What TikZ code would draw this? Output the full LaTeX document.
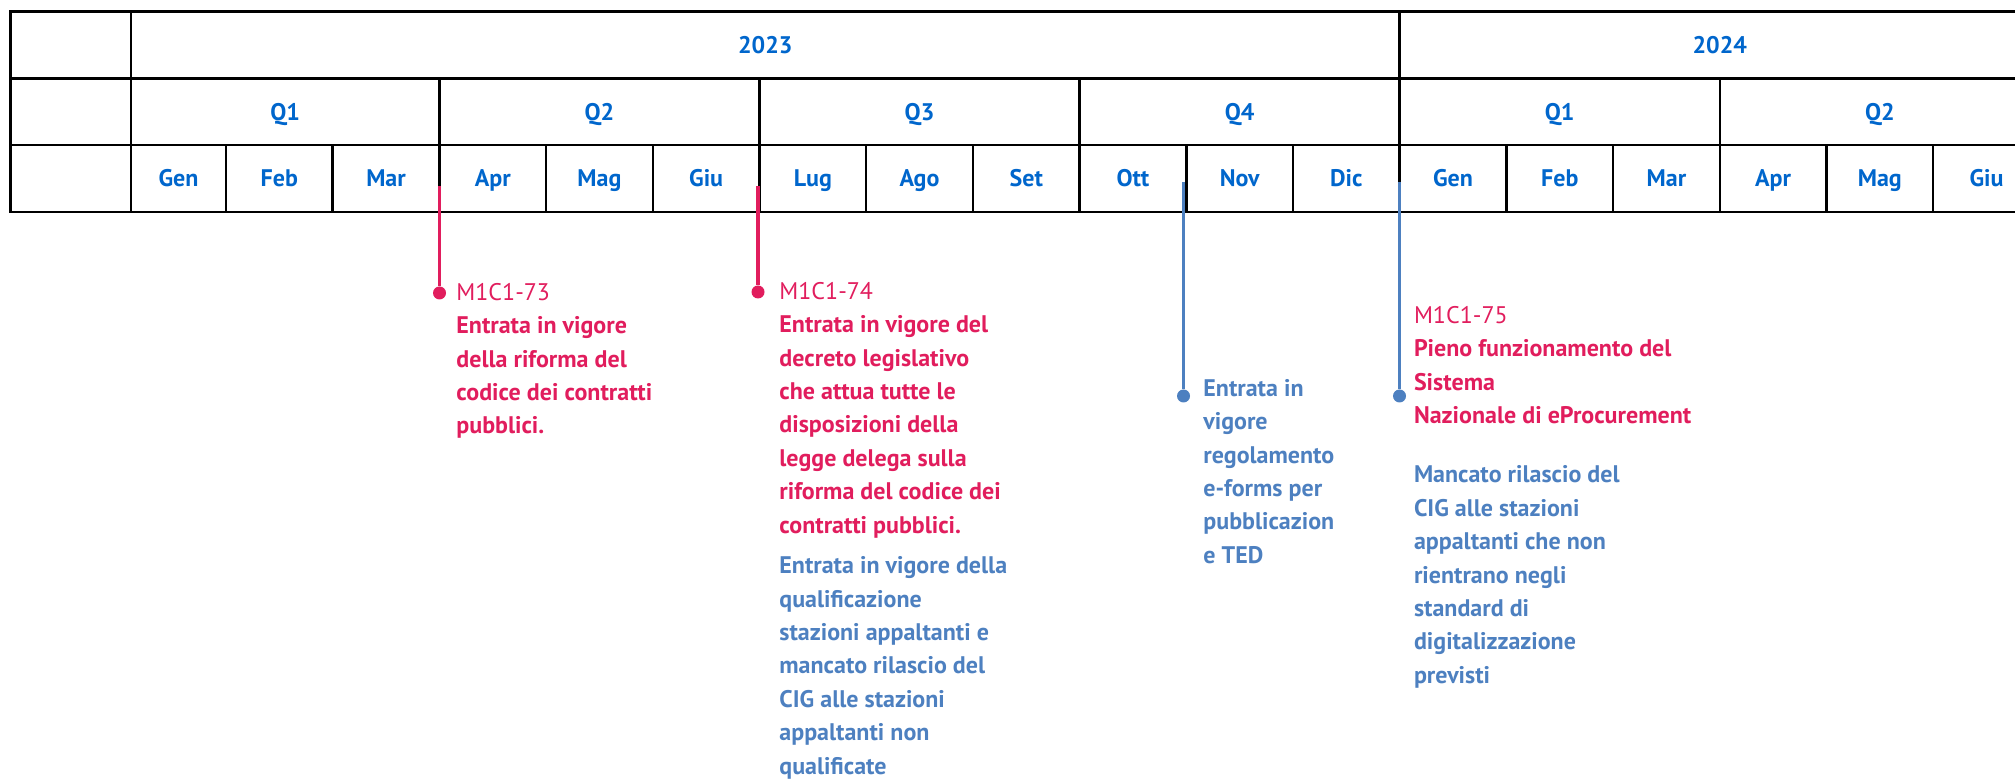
\documentclass[tikz,border=0pt]{standalone}
\usepackage{fontspec}
\setmainfont{PT Sans}
\usetikzlibrary{positioning}

\definecolor{headblue}{RGB}{0,102,204}
\definecolor{msred}{RGB}{225,29,93}
\definecolor{msblue}{RGB}{77,128,192}

\tikzset{
  tline/.style={draw=black,line width=1.25pt},
  head/.style={font=\fontsize{12}{14}\selectfont\bfseries,text=headblue,
    text height=8.4pt,text depth=0pt,inner sep=0pt},
  pin/.style={line width=1.75pt},
  dot/.style={circle,fill,inner sep=0pt,minimum size=6.5pt},
  note/.style={anchor=north west,align=left,inner sep=0pt,
    font=\fontsize{12}{16.7}\selectfont\bfseries}
}

\begin{document}
\begin{tikzpicture}[x=0.5pt,y=-0.5pt]
  \useasboundingbox (0,0) rectangle (2015,779);
  \begin{scope}
  \clip (0,0) rectangle (2015,779);

  % Draw empty first column
  \draw [tline] (10.3,11.6) rectangle (131,78.4);
  \draw [tline] (10.3,78.4) rectangle (131,145.2);
  \draw [tline] (10.3,145.2) rectangle (131,212);

  % Draw years
  \draw [tline] (131,11.6) rectangle (1399.7,78.4);
  \node [head] (y2023) at (765.3,45) {2023};
  \draw [tline] (1399.7,11.6) rectangle (2039.9,78.4);
  \node [head] (y2024) at (1719.8,45) {2024};

  % Draw quarters
  \foreach \q [count=\i] in {Q1,Q2,Q3,Q4,Q1,Q2} {
    \pgfmathsetmacro{\xa}{\i==1 ? 131 : 226+106.7*(3*\i-4)}
    \pgfmathsetmacro{\xb}{226+106.7*(3*\i-1)}
    \draw [tline] (\xa,78.4) rectangle (\xb,145.2);
    \node [head] (q\i) at ({(\xa+\xb)/2},111.8) {\q};
  }

  % Draw months
  \foreach \m [count=\i] in {Gen,Feb,Mar,Apr,Mag,Giu,Lug,Ago,Set,Ott,Nov,Dic,
      Gen,Feb,Mar,Apr,Mag,Giu} {
    \pgfmathsetmacro{\xa}{\i==1 ? 131 : 226+106.7*(\i-2)}
    \pgfmathsetmacro{\xb}{226+106.7*(\i-1)}
    \draw [tline] (\xa,145.2) rectangle (\xb,212);
    \node [head] (mon\i) at ({(\xa+\xb)/2},178.6) {\m};
  }
  \end{scope}

  % Draw milestones and label them
  \coordinate (t73) at (439.5,186);
  \node [dot,msred] (d73) at (439.5,293) {};
  \draw [pin,msred] (t73) -- (d73);
  \node [note,text=msred] (n73) at (456,276.6)
    {\strut{\mdseries M1C1-73}\\Entrata in vigore\\della riforma del\\
     codice dei contratti\\pubblici.};

  \coordinate (t74) at (758,186);
  \node [dot,msred] (d74) at (758,292) {};
  \draw [pin,msred] (t74) -- (d74);
  \node [note,text=msred] (n74) at (779,275.6)
    {\strut{\mdseries M1C1-74}\\Entrata in vigore del\\decreto legislativo\\
     che attua tutte le\\disposizioni della\\legge delega sulla\\
     riforma del codice dei\\contratti pubblici.};
  \node [note,text=msblue] (s74) at (779,550)
    {\strut Entrata in vigore della\\qualificazione\\stazioni appaltanti e\\
     mancato rilascio del\\CIG alle stazioni\\appaltanti non\\qualificate};

  \coordinate (tted) at (1183.5,182);
  \node [dot,msblue] (dted) at (1183.5,396) {};
  \draw [pin,msblue] (tted) -- (dted);
  \node [note,text=msblue] (nted) at (1203,372.6)
    {\strut Entrata in\\vigore\\regolamento\\e-forms per\\pubblicazion\\e TED};

  \coordinate (t75) at (1399.5,182);
  \node [dot,msblue] (d75) at (1399.5,396) {};
  \draw [pin,msblue] (t75) -- (d75);
  \node [note,text=msred] (n75) at (1413.6,299.6)
    {\strut{\mdseries M1C1-75}\\Pieno funzionamento del\\Sistema\\
     Nazionale di eProcurement};
  \node [note,text=msblue] (s75) at (1413.6,459.1)
    {\strut Mancato rilascio del\\CIG alle stazioni\\appaltanti che non\\
     rientrano negli\\standard di\\digitalizzazione\\previsti};

\end{tikzpicture}
\end{document}
